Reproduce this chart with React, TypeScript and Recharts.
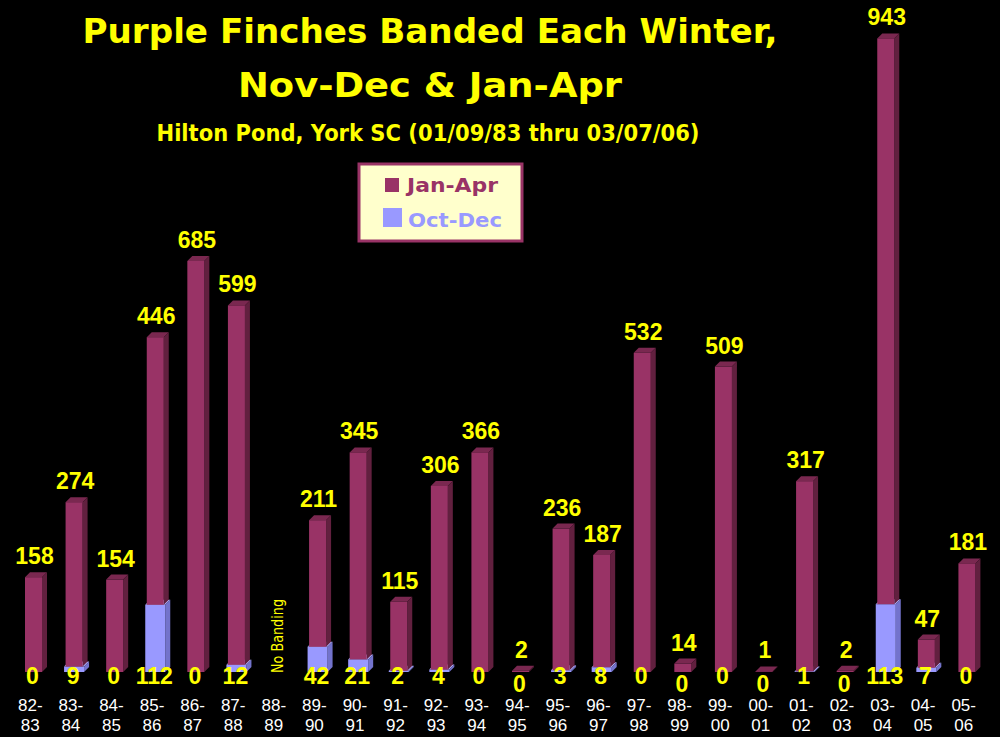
import React from 'react';
import { BarChart, Bar, XAxis, YAxis, LabelList, ReferenceLine } from 'recharts';

// Winter seasons (Nov-Dec of first year, Jan-Apr of second)
const seasons = [
  '82-83', '83-84', '84-85', '85-86', '86-87', '87-88', '88-89', '89-90',
  '90-91', '91-92', '92-93', '93-94', '94-95', '95-96', '96-97', '97-98',
  '98-99', '99-00', '00-01', '01-02', '02-03', '03-04', '04-05', '05-06',
];

// Jan-Apr totals (null = no banding that winter)
const janApr = [
  158, 274, 154, 446, 685, 599, null, 211,
  345, 115, 306, 366, 2, 236, 187, 532,
  14, 509, 1, 317, 2, 943, 47, 181,
];

// Oct-Dec totals
const octDec = [
  0, 9, 0, 112, 0, 12, null, 42,
  21, 2, 4, 0, 0, 3, 8, 0,
  0, 0, 0, 1, 0, 113, 7, 0,
];

const data = seasons.map((season, i) => ({
  season,
  janApr: janApr[i],
  octDec: octDec[i],
}));

const YELLOW = '#ffff00';
const NUM_FONT = "'Liberation Sans', Arial, sans-serif";
const TITLE_FONT = "'Comic Sans MS', 'DejaVu Sans', sans-serif";

const DEPTH = 5;

// 3D box: front face + top + right side
const make3D = (front: string, side: string, top: string, widen = 0) => (props: any) => {
  const { x, y, width, height } = props;
  if (x == null || y == null || !height || height <= 0) return <g />;
  const bx = x - widen;
  const w = width + widen * 2;
  const d = DEPTH;
  return (
    <g>
      <polygon
        points={`${bx},${y} ${bx + d},${y - d} ${bx + w + d},${y - d} ${bx + w},${y}`}
        fill={top}
      />
      <polygon
        points={`${bx + w},${y} ${bx + w + d},${y - d} ${bx + w + d},${y + height - d} ${bx + w},${y + height}`}
        fill={side}
      />
      <rect x={bx} y={y} width={w} height={height} fill={front} />
    </g>
  );
};

const JanAprShape = make3D('#993366', '#62203f', '#7a2850');
const OctDecShape = make3D('#9999ff', '#7373cc', '#b3b3ff', 1.5);

const TopLabel = (props: any) => {
  const { x, y, width, value } = props;
  if (value == null) return null;
  return (
    <text
      x={x + width / 2 + 1}
      y={y - 13}
      textAnchor="middle"
      fill={YELLOW}
      fontFamily={NUM_FONT}
      fontWeight="bold"
      fontSize={23}
    >
      {value}
    </text>
  );
};

const BottomLabel = (props: any) => {
  const { x, y, width, height, value, index } = props;
  if (value == null) return null;
  const ja = janApr[index];
  // push down when the Jan-Apr label sits right above the base
  const drop = ja != null && ja < 20 && value === 0 ? 20 : 12;
  return (
    <text
      x={x + width / 2 - 1}
      y={y + height + drop}
      textAnchor="middle"
      fill={YELLOW}
      fontFamily={NUM_FONT}
      fontWeight="bold"
      fontSize={23}
    >
      {value}
    </text>
  );
};

const SeasonTick = (props: any) => {
  const { x, y, payload } = props;
  const [a, b] = String(payload.value).split('-');
  return (
    <g>
      <text x={x - 3} y={y + 31} textAnchor="middle" fill="#ffffff" fontFamily={NUM_FONT} fontSize={17}>
        {a}-
      </text>
      <text x={x - 3} y={y + 51} textAnchor="middle" fill="#ffffff" fontFamily={NUM_FONT} fontSize={17}>
        {b}
      </text>
    </g>
  );
};

const NoBanding = (props: any) => {
  const vb = props.viewBox || {};
  const cx = (vb.x || 0) + 1;
  const cy = (vb.y || 0) + (vb.height || 0) - 36;
  return (
    <text
      x={cx}
      y={cy}
      transform={`rotate(-90, ${cx}, ${cy})`}
      textAnchor="middle"
      dominantBaseline="central"
      fill={YELLOW}
      fontFamily={TITLE_FONT}
      fontSize={15}
      textLength={74}
      lengthAdjust="spacingAndGlyphs"
    >
      No Banding
    </text>
  );
};

export default function App() {
  return (
    <div style={{ position: 'absolute', left: 0, top: 0, width: 1000, height: 737, background: '#000' }}>
      <BarChart
        width={1000}
        height={737}
        data={data}
        margin={{ top: 12, right: 13, left: 13, bottom: 5 }}
        barSize={17}
      >
        <XAxis
          dataKey="season"
          axisLine={false}
          tickLine={false}
          height={60}
          interval={0}
          tick={<SeasonTick />}
        />
        <YAxis hide domain={[0, 1100]} />
        <ReferenceLine x="88-89" stroke="none" label={<NoBanding />} />
        <Bar dataKey="octDec" stackId="a" isAnimationActive={false} shape={OctDecShape}>
          <LabelList dataKey="octDec" content={<BottomLabel />} />
        </Bar>
        <Bar dataKey="janApr" stackId="a" isAnimationActive={false} shape={JanAprShape}>
          <LabelList dataKey="janApr" content={<TopLabel />} />
        </Bar>
      </BarChart>

      <svg
        width={1000}
        height={737}
        style={{ position: 'absolute', left: 0, top: 0, pointerEvents: 'none' }}
      >
        <text x={430} y={43} textAnchor="middle" fill={YELLOW} fontFamily={TITLE_FONT}
          fontWeight="bold" fontSize={34} textLength={695} lengthAdjust="spacingAndGlyphs">
          Purple Finches Banded Each Winter,
        </text>
        <text x={430} y={97} textAnchor="middle" fill={YELLOW} fontFamily={TITLE_FONT}
          fontWeight="bold" fontSize={34} textLength={384} lengthAdjust="spacingAndGlyphs">
          Nov-Dec &amp; Jan-Apr
        </text>
        <text x={428} y={141} textAnchor="middle" fill={YELLOW} fontFamily={TITLE_FONT}
          fontWeight="bold" fontSize={23} textLength={543} lengthAdjust="spacingAndGlyphs">
          Hilton Pond, York SC (01/09/83 thru 03/07/06)
        </text>

        <rect x={359} y={164} width={163} height={77} fill="#ffffcc" stroke="#993366" strokeWidth={3} />
        <rect x={385} y={178} width={14} height={14} fill="#993366" />
        <text x={407} y={192} fill="#993366" fontFamily={TITLE_FONT} fontWeight="bold"
          fontSize={20} textLength={91} lengthAdjust="spacingAndGlyphs">
          Jan-Apr
        </text>
        <rect x={383} y={208} width={19} height={19} fill="#9999ff" />
        <text x={408} y={227} fill="#9999ff" fontFamily={TITLE_FONT} fontWeight="bold"
          fontSize={20} textLength={94} lengthAdjust="spacingAndGlyphs">
          Oct-Dec
        </text>
      </svg>
    </div>
  );
}
